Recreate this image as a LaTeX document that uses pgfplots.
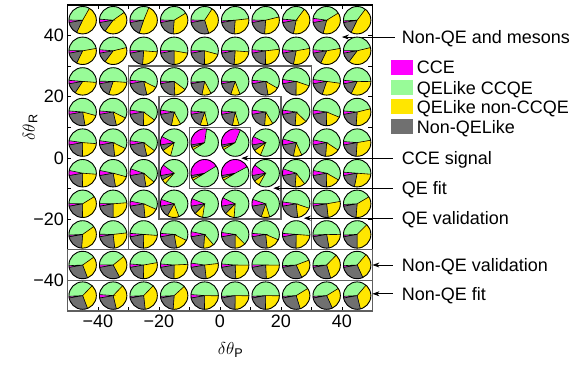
\documentclass[border=0pt]{standalone}
\usepackage{pgfplots}
\pgfplotsset{compat=1.18}
\usepackage{pgfplotstable}
\usepackage{fontspec}
\setmainfont{Liberation Sans}
\usetikzlibrary{arrows.meta}
\definecolor{cce}{RGB}{255,0,255}
\definecolor{ccqe}{RGB}{152,251,152}
\definecolor{nonccqe}{RGB}{255,230,0}
\definecolor{nonqe}{RGB}{112,112,112}
\definecolor{boxgray}{RGB}{95,95,95}
\pgfdeclareplotmark{empty}{}

% x y CCE QELikeCCQE QELikeNonCCQE NonQELike
\pgfplotstableread{
x y m g ye k
-45 45 0.03 0.33 0.49 0.15
-35 45 0.04 0.39 0.45 0.12
-25 45 0.03 0.31 0.49 0.17
-15 45 0.03 0.41 0.35 0.21
-5 45 0.03 0.34 0.36 0.27
5 45 0.02 0.49 0.28 0.21
15 45 0.03 0.46 0.30 0.21
25 45 0.04 0.34 0.43 0.19
35 45 0.05 0.39 0.38 0.18
45 45 0.02 0.36 0.47 0.15
-45 35 0.03 0.47 0.35 0.15
-35 35 0.04 0.45 0.39 0.12
-25 35 0.03 0.51 0.25 0.21
-15 35 0.03 0.52 0.22 0.22
-5 35 0.03 0.54 0.21 0.22
5 35 0.03 0.51 0.25 0.21
15 35 0.04 0.47 0.27 0.22
25 35 0.04 0.46 0.31 0.19
35 35 0.04 0.46 0.35 0.15
45 35 0.03 0.46 0.39 0.12
-45 25 0.04 0.50 0.33 0.13
-35 25 0.03 0.51 0.29 0.17
-25 25 0.04 0.56 0.14 0.26
-15 25 0.03 0.60 0.14 0.23
-5 25 0.02 0.68 0.11 0.19
5 25 0.03 0.69 0.11 0.17
15 25 0.04 0.57 0.14 0.25
25 25 0.05 0.53 0.20 0.22
35 25 0.05 0.50 0.28 0.17
45 25 0.04 0.49 0.32 0.15
-45 15 0.04 0.53 0.18 0.25
-35 15 0.04 0.56 0.14 0.26
-25 15 0.05 0.58 0.15 0.22
-15 15 0.05 0.65 0.11 0.19
-5 15 0.04 0.70 0.09 0.17
5 15 0.04 0.69 0.08 0.19
15 15 0.05 0.64 0.10 0.21
25 15 0.05 0.60 0.14 0.21
35 15 0.05 0.54 0.19 0.22
45 15 0.04 0.45 0.30 0.21
-45 5 0.05 0.49 0.24 0.22
-35 5 0.05 0.55 0.16 0.24
-25 5 0.05 0.58 0.11 0.26
-15 5 0.10 0.72 0.11 0.07
-5 5 0.30 0.64 0.03 0.03
5 5 0.34 0.60 0.03 0.03
15 5 0.10 0.74 0.09 0.07
25 5 0.07 0.64 0.10 0.19
35 5 0.06 0.56 0.17 0.21
45 5 0.04 0.46 0.29 0.21
-45 -5 0.06 0.48 0.24 0.22
-35 -5 0.06 0.51 0.18 0.25
-25 -5 0.08 0.56 0.11 0.25
-15 -5 0.13 0.76 0.055 0.055
-5 -5 0.44 0.50 0.03 0.03
5 -5 0.45 0.49 0.03 0.03
15 -5 0.13 0.73 0.07 0.07
25 -5 0.08 0.59 0.12 0.21
35 -5 0.06 0.55 0.17 0.22
45 -5 0.04 0.50 0.27 0.19
-45 -15 0.03 0.41 0.34 0.22
-35 -15 0.03 0.48 0.26 0.22
-25 -15 0.06 0.54 0.17 0.24
-15 -15 0.08 0.64 0.14 0.14
-5 -15 0.09 0.72 0.10 0.10
5 -15 0.10 0.69 0.11 0.10
15 -15 0.08 0.65 0.10 0.17
25 -15 0.05 0.53 0.18 0.24
35 -15 0.03 0.47 0.26 0.24
45 -15 0.02 0.425 0.35 0.21
-45 -25 0.02 0.41 0.36 0.21
-35 -25 0.03 0.48 0.25 0.24
-25 -25 0.04 0.50 0.24 0.22
-15 -25 0.04 0.56 0.15 0.25
-5 -25 0.06 0.605 0.125 0.21
5 -25 0.05 0.60 0.125 0.22
15 -25 0.04 0.555 0.17 0.24
25 -25 0.04 0.50 0.24 0.22
35 -25 0.02 0.51 0.22 0.25
45 -25 0.02 0.38 0.375 0.22
-45 -35 0.02 0.41 0.29 0.28
-35 -35 0.03 0.39 0.28 0.30
-25 -35 0.04 0.46 0.28 0.22
-15 -35 0.04 0.48 0.26 0.22
-5 -35 0.05 0.46 0.25 0.24
5 -35 0.04 0.49 0.24 0.23
15 -35 0.03 0.50 0.24 0.23
25 -35 0.02 0.45 0.24 0.29
35 -35 0.02 0.38 0.33 0.27
45 -35 0.02 0.37 0.32 0.29
-45 -45 0.02 0.38 0.32 0.28
-35 -45 0.04 0.36 0.34 0.26
-25 -45 0.02 0.38 0.36 0.24
-15 -45 0.02 0.39 0.38 0.21
-5 -45 0.04 0.49 0.25 0.22
5 -45 0.02 0.51 0.25 0.22
15 -45 0.02 0.51 0.25 0.22
25 -45 0.02 0.42 0.29 0.27
35 -45 0.02 0.42 0.27 0.29
45 -45 0.02 0.37 0.35 0.26
}\pies

\newcommand\pieR{13.7pt}
\newcommand\pieS{190}
\newcommand\drawpie{%
  \begingroup
  \pgfkeys{/pgf/fpu=true,/pgf/fpu/output format=fixed}%
  \pgfmathsetmacro\pieTot{\pieM+\pieG+\pieY+\pieK}%
  \pgfmathsetmacro\pieA{\pieS-360*\pieM/\pieTot}%
  \pgfmathsetmacro\pieB{\pieA-360*\pieG/\pieTot}%
  \pgfmathsetmacro\pieC{\pieB-360*\pieY/\pieTot}%
  \pgfkeys{/pgf/fpu=false}%
  \fill[cce] (0pt,0pt) -- (\pieS:\pieR) arc[start angle=\pieS, end angle=\pieA, radius=\pieR] -- cycle;
  \fill[ccqe] (0pt,0pt) -- (\pieA:\pieR) arc[start angle=\pieA, end angle=\pieB, radius=\pieR] -- cycle;
  \fill[nonccqe] (0pt,0pt) -- (\pieB:\pieR) arc[start angle=\pieB, end angle=\pieC, radius=\pieR] -- cycle;
  \fill[nonqe] (0pt,0pt) -- (\pieC:\pieR) arc[start angle=\pieC, end angle=-170, radius=\pieR] -- cycle;
  \draw[black, line width=0.6pt] (\pieS:\pieR) -- (0pt,0pt) -- (\pieA:\pieR)
     (0pt,0pt) -- (\pieB:\pieR) (0pt,0pt) -- (\pieC:\pieR);
  \draw[black, line width=0.9pt] (0pt,0pt) circle[radius=\pieR];
  \endgroup
}

\begin{document}
\begin{tikzpicture}[font=\fontsize{18}{21}\selectfont]
\begin{axis}[
  scale only axis, width=305pt, height=306pt,
  xmin=-50, xmax=50, ymin=-50, ymax=50,
  xtick={-40,-20,0,20,40}, ytick={-40,-20,0,20,40},
  xticklabels={−40,−20,0,20,40}, yticklabels={−40,−20,0,20,40},
  minor xtick={-30,-10,10,30}, minor ytick={-30,-10,10,30},
  tick align=inside, major tick length=4pt, minor tick length=4pt,
  tick pos=both,
  axis line style={black, line width=1.6pt},
  every tick/.style={black, line width=0.8pt},
  clip=false,
  xlabel={$\delta\theta$\textsubscript{P}},
  ylabel={$\delta\theta$\textsubscript{R}},
  every axis x label/.style={at={(axis cs:3.5,-64.4)}, anchor=base},
  every axis y label/.style={at={(axis cs:-60.7,10)}, anchor=base, rotate=90},
]
\addplot[scatter, only marks, mark=empty, point meta=0,
  visualization depends on={\thisrow{m} \as \pieM},
  visualization depends on={\thisrow{g} \as \pieG},
  visualization depends on={\thisrow{ye} \as \pieY},
  visualization depends on={\thisrow{k} \as \pieK},
  scatter/@pre marker code/.code={\drawpie},
  scatter/@post marker code/.code={},
] table[x=x, y=y] {\pies};

% regions
\draw[boxgray, line width=1.5pt] (axis cs:-30,-30) rectangle (axis cs:30,30);
\draw[boxgray, line width=1.5pt] (axis cs:-20,-20) rectangle (axis cs:20,20);
\draw[boxgray, line width=1.5pt] (axis cs:-10,-10) rectangle (axis cs:10,10);
\draw[boxgray, line width=1.5pt] (axis cs:-50,-40) rectangle (axis cs:50,-30);
\draw[boxgray, line width=1.5pt] (axis cs:-50,-50) rectangle (axis cs:50,-40);

% annotations
\tikzset{ann/.style={-{Stealth[length=7pt,width=5pt]}, black, line width=0.8pt},
         lab/.style={anchor=base west, inner sep=0pt, yshift=-6.5pt}}
\draw[ann] (axis cs:57.4,39.5) -- (axis cs:40,39.5);
\node[lab] at (axis cs:59.6,39.5) {Non-QE and mesons};
\draw[ann] (axis cs:56.7,-0.1) -- (axis cs:7,-0.1);
\node[lab] at (axis cs:59.6,-0.1) {CCE signal};
\draw[ann] (axis cs:56.7,-9.9) -- (axis cs:17.5,-9.9);
\node[lab] at (axis cs:59.6,-9.9) {QE fit};
\draw[ann] (axis cs:56.7,-19.7) -- (axis cs:27.5,-19.7);
\node[lab] at (axis cs:59.6,-19.7) {QE validation};
\draw[ann] (axis cs:56.7,-35) -- (axis cs:50,-35);
\node[lab] at (axis cs:59.6,-35) {Non-QE validation};
\draw[ann] (axis cs:56.7,-44.4) -- (axis cs:50,-44.4);
\node[lab] at (axis cs:59.6,-44.4) {Non-QE fit};

% legend
\fill[cce] (axis cs:56,27.15) rectangle (axis cs:63.2,32.05);
\node[lab] at (axis cs:64.5,29.6) {CCE};
\fill[ccqe] (axis cs:56,20.55) rectangle (axis cs:63.2,25.45);
\node[lab] at (axis cs:64.5,23.0) {QELike CCQE};
\fill[nonccqe] (axis cs:56,14.25) rectangle (axis cs:63.2,19.15);
\node[lab] at (axis cs:64.5,16.7) {QELike non-CCQE};
\fill[nonqe] (axis cs:56,7.75) rectangle (axis cs:63.2,12.65);
\node[lab] at (axis cs:64.5,10.2) {Non-QELike};

\path (axis cs:-72.1,-68) rectangle (axis cs:119.7,51.6);
\end{axis}
\end{tikzpicture}
\end{document}
